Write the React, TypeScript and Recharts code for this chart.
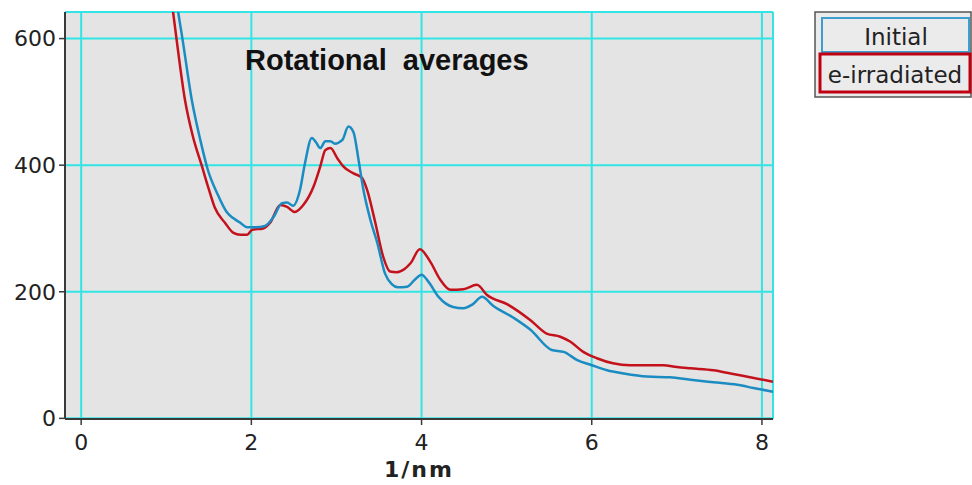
import { LineChart, Line, XAxis, YAxis, CartesianGrid, Customized } from 'recharts';

// Initial (blue) – q in 1/nm, intensity
const initialQ = [1.05, 1.14, 1.19, 1.30, 1.40, 1.49, 1.60, 1.71, 1.79, 1.87, 1.95, 2.05, 2.16, 2.26, 2.36, 2.42, 2.49, 2.57, 2.63, 2.71, 2.76, 2.81, 2.87, 2.93, 2.98, 3.07, 3.14, 3.20, 3.26, 3.31, 3.40, 3.48, 3.57, 3.65, 3.72, 3.83, 3.92, 4.00, 4.08, 4.20, 4.37, 4.49, 4.60, 4.71, 4.84, 5.08, 5.28, 5.53, 5.67, 5.83, 6.00, 6.18, 6.37, 6.65, 6.92, 7.16, 7.43, 7.71, 7.90, 8.13];
const initialI = [735, 642, 600, 503, 440, 392, 355, 326, 316, 309, 302, 302, 304, 318, 340, 341, 336, 360, 403, 443, 436, 427, 438, 438, 434, 440, 461, 452, 408, 366, 313, 277, 229, 212, 207, 208, 219, 227, 216, 192, 176, 174, 180, 192, 178, 159, 140, 108, 105, 92, 84, 76, 71, 66, 65, 61, 57, 53, 48, 42];

// e-irradiated (red)
const irradQ = [1.00, 1.08, 1.12, 1.22, 1.31, 1.42, 1.50, 1.57, 1.69, 1.79, 1.87, 1.95, 2.01, 2.14, 2.22, 2.34, 2.42, 2.51, 2.61, 2.73, 2.81, 2.87, 2.93, 3.01, 3.08, 3.20, 3.30, 3.36, 3.45, 3.55, 3.63, 3.71, 3.80, 3.87, 3.98, 4.10, 4.22, 4.34, 4.49, 4.65, 4.77, 5.01, 5.28, 5.47, 5.63, 5.75, 5.90, 6.06, 6.25, 6.45, 6.84, 7.00, 7.16, 7.43, 7.63, 7.86, 8.13];
const irradI = [725, 642, 600, 503, 447, 398, 362, 333, 309, 293, 290, 290, 298, 300, 309, 337, 334, 326, 337, 366, 398, 424, 427, 411, 398, 387, 380, 361, 313, 255, 232, 231, 236, 245, 267, 248, 219, 203, 204, 211, 195, 180, 155, 134, 129, 121, 105, 95, 87, 84, 84, 81, 79, 76, 71, 65, 58];

const xTicks = [0, 2, 4, 6, 8];
const yTicks = [0, 200, 400, 600];

const initialData = initialQ.map((x, i) => ({ x, y: initialI[i] }));
const irradData = irradQ.map((x, i) => ({ x, y: irradI[i] }));

const BLUE = '#1b8cc2';
const RED = '#c4121c';
const GRID = '#33e4e4';
const AXIS = '#3a3a3a';

const tickStyle = { fontSize: 22, fill: '#222', fontFamily: 'DejaVu Sans' };

function Overlay() {
  return (
    <g>
      <text x={245} y={70} fontFamily="Liberation Sans" fontWeight="bold" fontSize={29} fill="#111" style={{ wordSpacing: 8 }}>
        Rotational averages
      </text>
      {/* legend */}
      <rect x={815} y={12} width={156} height={85} fill="#ebebeb" stroke="#555" strokeWidth={1.5} />
      <rect x={822} y={18} width={147} height={34} fill="#ebebeb" stroke="#3d9fd0" strokeWidth={2} />
      <text x={896} y={45} textAnchor="middle" fontFamily="DejaVu Sans" fontSize={23} fill="#222">Initial</text>
      <rect x={820} y={54} width={150} height={38} fill="#ebebeb" stroke="#c00010" strokeWidth={3} />
      <text x={895} y={83} textAnchor="middle" fontFamily="DejaVu Sans" fontSize={23} fill="#222">e-irradiated</text>
    </g>
  );
}

export default function App() {
  return (
    <div style={{ position: 'absolute', left: 0, top: 0, width: 972, height: 485, background: '#fff' }}>
      <LineChart width={972} height={485} margin={{ top: 12, right: 199, bottom: 0, left: 0 }}>
        <CartesianGrid fill="#e4e4e4" fillOpacity={1} stroke={GRID} strokeWidth={2} />
        <XAxis
          dataKey="x"
          type="number"
          domain={[-0.19, 8.13]}
          ticks={xTicks}
          allowDataOverflow
          height={66}
          tick={tickStyle}
          tickSize={6}
          tickMargin={9}
          axisLine={{ stroke: AXIS, strokeWidth: 2 }}
          tickLine={{ stroke: AXIS, strokeWidth: 1.5 }}
          label={{ value: '1/nm', position: 'insideBottom', offset: 8, fontSize: 22, fontWeight: 'bold', fill: '#222', fontFamily: 'DejaVu Sans', letterSpacing: 2 }}
        />
        <XAxis
          xAxisId="top"
          orientation="top"
          type="number"
          domain={[-0.19, 8.13]}
          height={0}
          tick={false}
          tickLine={false}
          axisLine={{ stroke: AXIS, strokeWidth: 2 }}
        />
        <YAxis
          type="number"
          domain={[-1, 642]}
          ticks={yTicks}
          allowDataOverflow
          width={65}
          tick={tickStyle}
          tickSize={6}
          tickMargin={3}
          axisLine={{ stroke: AXIS, strokeWidth: 2 }}
          tickLine={{ stroke: AXIS, strokeWidth: 1.5 }}
        />
        <YAxis
          yAxisId="right"
          orientation="right"
          type="number"
          domain={[-1, 642]}
          width={0}
          tick={false}
          tickLine={false}
          axisLine={{ stroke: AXIS, strokeWidth: 2 }}
        />
        <Line data={irradData} dataKey="y" type="monotone" stroke={RED} strokeWidth={2.5} dot={false} isAnimationActive={false} />
        <Line data={initialData} dataKey="y" type="monotone" stroke={BLUE} strokeWidth={2.5} dot={false} isAnimationActive={false} />
        <Customized component={<Overlay />} />
      </LineChart>
    </div>
  );
}
